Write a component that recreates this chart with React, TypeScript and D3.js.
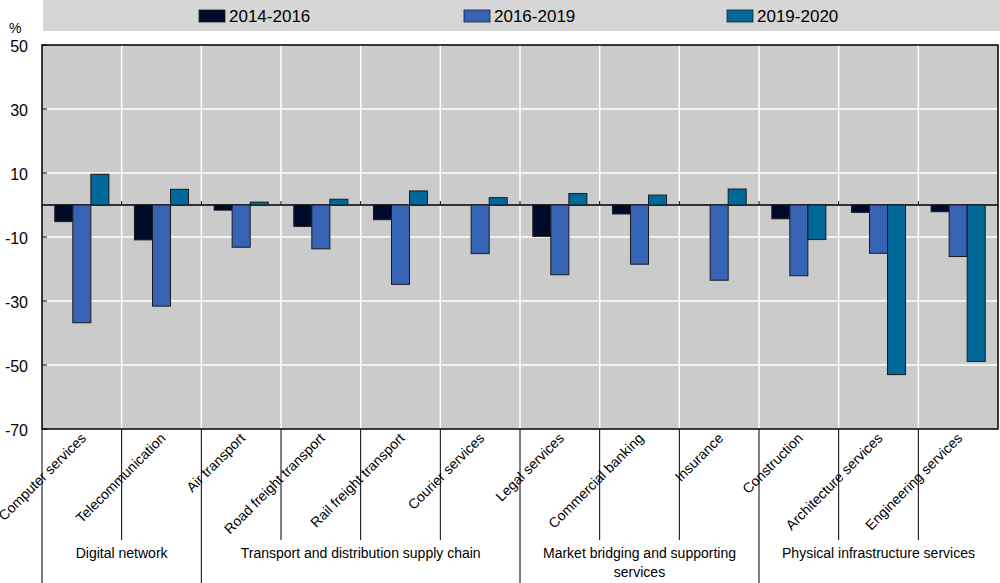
import React from "react";
import * as d3 from "d3";

const categories = [
  "Computer services",
  "Telecommunication",
  "Air transport",
  "Road freight transport",
  "Rail freight transport",
  "Courier services",
  "Legal services",
  "Commercial banking",
  "Insurance",
  "Construction",
  "Architecture services",
  "Engineering services",
];

const seriesNames = ["2014-2016", "2016-2019", "2019-2020"];
const s2014_2016 = [-5.2, -10.9, -1.6, -6.7, -4.6, 0, -9.8, -2.8, 0, -4.3, -2.3, -2.1];
const s2016_2019 = [-36.8, -31.6, -13.2, -13.7, -24.8, -15.2, -21.8, -18.5, -23.5, -22.1, -15.1, -16.1];
const s2019_2020 = [9.6, 4.9, 0.9, 1.8, 4.4, 2.3, 3.6, 3.1, 5.0, -10.8, -53.0, -48.9];
const seriesColors = ["#000a2b", "#3763b4", "#00699a"];

const groupLabels = [
  ["Digital network"],
  ["Transport and distribution supply chain"],
  ["Market bridging and supporting", "services"],
  ["Physical infrastructure services"],
];
const groupSizes = [2, 4, 3, 3];

const yTicks = [-70, -50, -30, -10, 10, 30, 50];

const W = 1000;
const H = 583;
const L = 42;
const R = 998;
const T = 45;
const B = 429;
const FONT = "'Liberation Sans', Arial, Helvetica, sans-serif";

export default function App() {
  const series = [s2014_2016, s2016_2019, s2019_2020];
  const y = d3.scaleLinear().domain([-70, 50]).range([B, T]);
  const x = d3.scaleBand<string>().domain(categories).range([L, R]).paddingInner(0).paddingOuter(0);
  const xi = d3
    .scaleBand<string>()
    .domain(seriesNames)
    .range([0, x.bandwidth()])
    .paddingInner(0)
    .paddingOuter(0.71);

  const step = x.step();
  const groupBounds: number[] = [0];
  groupSizes.forEach((s, i) => groupBounds.push(groupBounds[i] + s));

  const legendX = [199, 464, 727];

  return (
    <svg
      width={W}
      height={H}
      style={{ position: "absolute", left: 0, top: 0, background: "#fff" }}
      fontFamily={FONT}
    >
      {/* legend band */}
      <rect x={43} y={0} width={W - 43} height={31} fill="#d6d6d6" />
      {seriesNames.map((n, i) => (
        <g key={n}>
          <rect x={legendX[i]} y={10} width={26} height={12} fill={seriesColors[i]} stroke="#222" strokeWidth={0.8} />
          <text x={legendX[i] + 30} y={22} fontSize={17} fill="#000">
            {n}
          </text>
        </g>
      ))}

      {/* plot background */}
      <rect x={L} y={T} width={R - L} height={B - T} fill="#cccbcc" />

      {/* horizontal gridlines */}
      {yTicks
        .filter((t) => t !== -70 && t !== 50)
        .map((t) => (
          <line key={t} x1={L} x2={R} y1={y(t)} y2={y(t)} stroke="#fff" strokeWidth={1.5} />
        ))}
      {/* vertical gridlines */}
      {categories.slice(1).map((c) => (
        <line key={c} x1={x(c)!} x2={x(c)!} y1={T} y2={B} stroke="#fff" strokeWidth={1.5} />
      ))}

      {/* zero line */}
      <line x1={L} x2={R} y1={y(0)} y2={y(0)} stroke="#000" strokeWidth={1.5} />
      {categories.slice(1).map((c) => (
        <line key={"zt" + c} x1={x(c)!} x2={x(c)!} y1={y(0) - 4} y2={y(0)} stroke="#000" strokeWidth={1} />
      ))}

      {/* bars */}
      {categories.map((c, ci) =>
        series.map((s, si) => {
          const v = s[ci];
          if (v === 0) return null;
          const y0 = y(Math.max(0, v));
          const y1 = y(Math.min(0, v));
          return (
            <rect
              key={c + si}
              x={x(c)! + xi(seriesNames[si])!}
              y={y0}
              width={xi.bandwidth()}
              height={y1 - y0}
              fill={seriesColors[si]}
              stroke="#1a1a1a"
              strokeWidth={1}
            />
          );
        })
      )}

      {/* plot border */}
      <rect x={L} y={T} width={R - L} height={B - T} fill="none" stroke="#000" strokeWidth={1.5} />

      {/* y ticks */}
      {yTicks.map((t) => (
        <g key={"yt" + t}>
          <line x1={L} x2={L + 5} y1={y(t)} y2={y(t)} stroke="#000" strokeWidth={1} />
          <text x={28} y={y(t) + 7} textAnchor="end" fontSize={16} fill="#000">
            {t}
          </text>
        </g>
      ))}
      <text x={9} y={33} fontSize={14} fill="#000">
        %
      </text>

      {/* x category separators below plot */}
      {d3.range(categories.length).map((i) => {
        const isGroup = groupBounds.includes(i);
        return (
          <line
            key={"sep" + i}
            x1={L + i * step}
            x2={L + i * step}
            y1={B}
            y2={isGroup ? H : 540}
            stroke="#000"
            strokeWidth={1}
          />
        );
      })}

      {/* category labels */}
      {categories.map((c) => {
        const cx = x(c)! + x.bandwidth() / 2;
        return (
          <text
            key={"cl" + c}
            transform={`translate(${cx + 5},${439}) rotate(-45)`}
            textAnchor="end"
            fontSize={14}
            fill="#000"
          >
            {c}
          </text>
        );
      })}

      {/* group labels */}
      {groupLabels.map((lines, gi) => {
        const cx = L + ((groupBounds[gi] + groupBounds[gi + 1]) / 2) * step;
        return (
          <text key={"gl" + gi} textAnchor="middle" fontSize={14} fill="#000">
            {lines.map((ln, li) => (
              <tspan key={li} x={cx} y={558 + li * 19}>
                {ln}
              </tspan>
            ))}
          </text>
        );
      })}
    </svg>
  );
}
